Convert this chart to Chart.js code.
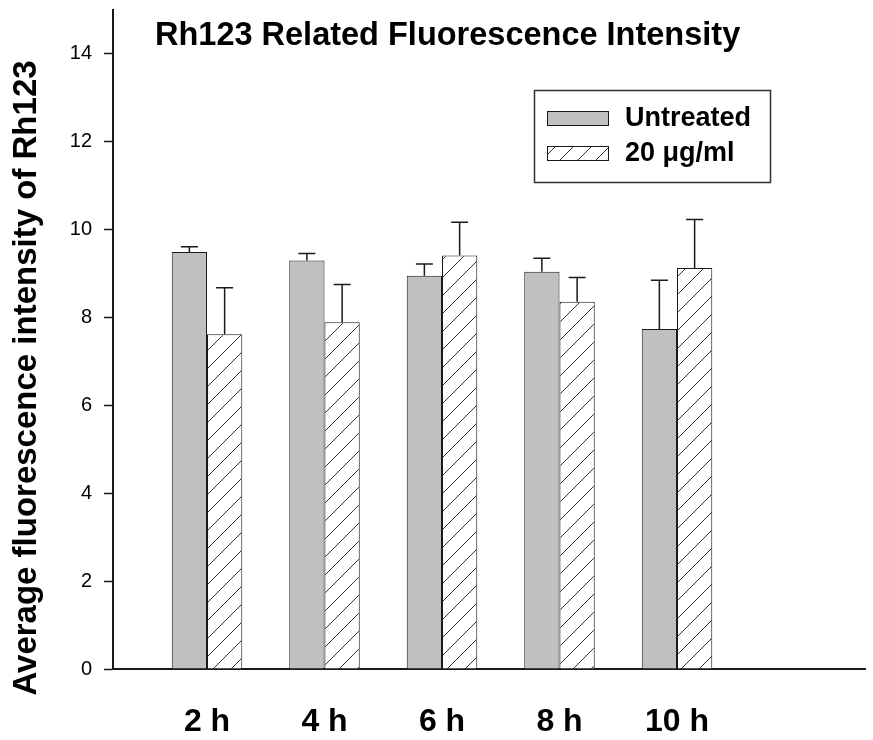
<!DOCTYPE html>
<html>
<head>
<meta charset="utf-8">
<title>Rh123 Related Fluorescence Intensity</title>
<script src="https://cdn.jsdelivr.net/npm/chart.js@4.4.1/dist/chart.umd.min.js"></script>
<style>
    html, body { margin: 0; padding: 0; background: #fff; }
    #wrap { width: 873px; height: 740px; position: relative; }
</style>
</head>
<body>
<div id="wrap"><canvas id="chart"></canvas></div>
<script>
// values
var CATEGORIES = ['2 h', '4 h', '6 h', '8 h', '10 h'];
var CATEGORY_POS = [1, 2, 3, 4, 5];
var SERIES_NAMES = ['Untreated', '20 \u03bcg/ml'];
var UNTREATED = [9.49, 9.30, 8.95, 9.04, 7.74];
var UNTREATED_SD = [0.12, 0.16, 0.27, 0.31, 1.11];
var TREATED = [7.62, 7.89, 9.41, 8.36, 9.13];
var TREATED_SD = [1.06, 0.86, 0.76, 0.55, 1.10];
var Y_TICKS = [0, 2, 4, 6, 8, 10, 12, 14];
var CHART_TITLE = 'Rh123 Related Fluorescence Intensity';
var Y_TITLE = 'Average fluorescence intensity of Rh123';

(function () {
    'use strict';

    var FONT = "'Liberation Sans', Arial, sans-serif";
    var INK = '#1a1a1a';
    var GRAY = '#c0c0c0';

    function hatchPattern() {
        var s = 18;
        var c = document.createElement('canvas');
        c.width = s;
        c.height = s;
        var g = c.getContext('2d');
        g.fillStyle = '#fff';
        g.fillRect(0, 0, s, s);
        g.strokeStyle = '#333';
        g.lineWidth = 1;
        g.beginPath();
        for (var k = -s; k <= s; k += s) {
            g.moveTo(k, s);
            g.lineTo(k + s, 0);
        }
        g.stroke();
        return g.createPattern(c, 'repeat');
    }

    function points(values) {
        var out = [];
        for (var i = 0; i < values.length; i++) {
            out.push({ x: CATEGORY_POS[i], y: values[i] });
        }
        return out;
    }

    var HATCH = hatchPattern();
    var ERRORS = [UNTREATED_SD, TREATED_SD];

    // error bars, in-plot legend box and the two titles
    var decorations = {
        id: 'decorations',
        afterDatasetsDraw: function (chart) {
            var ctx = chart.ctx;
            var y = chart.scales.y;
            ctx.save();
            ctx.strokeStyle = INK;
            ctx.lineWidth = 1.5;
            for (var d = 0; d < chart.data.datasets.length; d++) {
                var meta = chart.getDatasetMeta(d);
                var ds = chart.data.datasets[d];
                for (var i = 0; i < meta.data.length; i++) {
                    var bar = meta.data[i];
                    var top = y.getPixelForValue(ds.data[i].y + ERRORS[d][i]);
                    ctx.beginPath();
                    ctx.moveTo(bar.x, bar.y);
                    ctx.lineTo(bar.x, top);
                    ctx.moveTo(bar.x - 8.5, top);
                    ctx.lineTo(bar.x + 8.5, top);
                    ctx.stroke();
                }
            }
            ctx.restore();
        },
        afterDraw: function (chart) {
            var ctx = chart.ctx;
            ctx.save();

            // chart title, inside the plot
            ctx.fillStyle = '#000';
            ctx.font = 'bold 32.5px ' + FONT;
            ctx.textAlign = 'left';
            ctx.textBaseline = 'alphabetic';
            ctx.fillText(CHART_TITLE, 155, 45);

            // y axis title
            ctx.save();
            ctx.translate(36, 378);
            ctx.rotate(-Math.PI / 2);
            ctx.textAlign = 'center';
            ctx.font = 'bold 33px ' + FONT;
            ctx.fillText(Y_TITLE, 0, 0);
            ctx.restore();

            // legend box
            ctx.strokeStyle = '#333';
            ctx.lineWidth = 1.5;
            ctx.strokeRect(534.5, 90.5, 236, 92);
            var fills = [GRAY, HATCH];
            var rows = [111, 146];
            ctx.font = 'bold 27px ' + FONT;
            ctx.textBaseline = 'middle';
            for (var r = 0; r < SERIES_NAMES.length; r++) {
                ctx.fillStyle = fills[r];
                ctx.fillRect(547, rows[r], 62, 15);
                ctx.lineWidth = 1;
                ctx.strokeStyle = INK;
                ctx.strokeRect(547.5, rows[r] + 0.5, 61, 14);
                ctx.fillStyle = '#000';
                ctx.fillText(SERIES_NAMES[r], 625, rows[r] + 8);
            }
            ctx.restore();
        }
    };

    var canvas = document.getElementById('chart');
    new Chart(canvas, {
        type: 'bar',
        data: {
            datasets: [
                {
                    label: SERIES_NAMES[0],
                    data: points(UNTREATED),
                    backgroundColor: GRAY,
                    borderColor: INK,
                    borderWidth: 1
                },
                {
                    label: SERIES_NAMES[1],
                    data: points(TREATED),
                    backgroundColor: HATCH,
                    borderColor: INK,
                    borderWidth: 1
                }
            ]
        },
        plugins: [decorations],
        options: {
            responsive: true,
            maintainAspectRatio: false,
            animation: false,
            devicePixelRatio: 1,
            categoryPercentage: 0.6,
            barPercentage: 1,
            layout: { padding: { top: 10, right: 8, left: 0, bottom: 0 } },
            plugins: {
                legend: { display: false },
                tooltip: { enabled: false },
                title: { display: false }
            },
            scales: {
                x: {
                    type: 'linear',
                    min: 0.2,
                    max: 6.6,
                    offset: false,
                    afterFit: function (scale) {
                        scale.height = 71;
                        scale.paddingLeft = 0;
                        scale.paddingRight = 0;
                    },
                    afterBuildTicks: function (scale) {
                        scale.ticks = CATEGORY_POS.map(function (v) { return { value: v }; });
                    },
                    ticks: {
                        autoSkip: false,
                        maxRotation: 0,
                        padding: 26,
                        color: '#000',
                        font: { family: FONT, size: 32, weight: 'bold' },
                        callback: function (value) {
                            var i = CATEGORY_POS.indexOf(value);
                            return i === -1 ? '' : CATEGORIES[i];
                        }
                    },
                    grid: { display: false },
                    border: { display: true, color: INK, width: 2 }
                },
                y: {
                    min: 0,
                    max: 15,
                    afterFit: function (scale) {
                        scale.width = 113;
                        scale.paddingTop = 0;
                        scale.paddingBottom = 0;
                    },
                    afterBuildTicks: function (scale) {
                        scale.ticks = Y_TICKS.map(function (v) { return { value: v }; });
                    },
                    ticks: {
                        padding: 12,
                        color: '#000',
                        font: { family: FONT, size: 20 }
                    },
                    grid: {
                        drawOnChartArea: false,
                        drawTicks: true,
                        tickLength: 9,
                        tickColor: INK,
                        tickWidth: 1.5
                    },
                    border: { display: true, color: INK, width: 2 }
                }
            }
        }
    });
})();
</script>
</body>
</html>
